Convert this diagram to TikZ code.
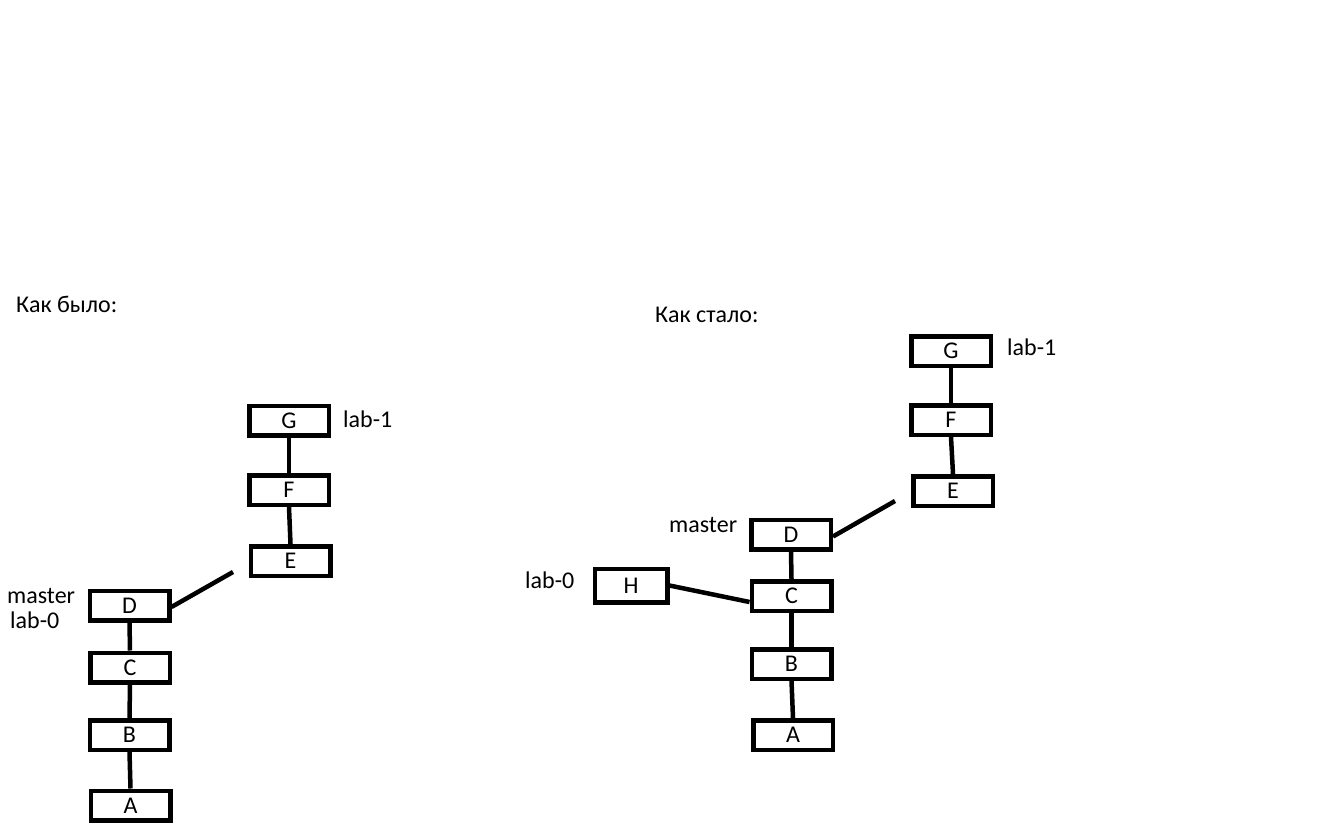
\documentclass[tikz,border=0pt]{standalone}
\usepackage{fontspec}
\setmainfont{Carlito}
\usetikzlibrary{calc}
\tikzset{
  commit/.style={draw=black, line width=4.5pt, minimum width=79.5pt, minimum height=29.5pt, inner sep=0pt, font=\fontsize{24}{28}\selectfont},
  tag/.style={anchor=base west, inner sep=0pt, font=\fontsize{24}{28}\selectfont},
  link/.style={line width=4.5pt, black}
}
\begin{document}
\begin{tikzpicture}[x=1pt, y=-1pt]
\useasboundingbox (0,0) rectangle (1317,837);
% ---------- left: before ----------
\node[tag] (titleL) at (16,312) {Как было:};
\node[commit] (LG) at (289,420.5) {G};
\node[commit] (LF) at (289,490) {F};
\node[commit] (LE) at (290.5,561) {E};
\node[commit] (LD) at (129.5,605.5) {D};
\node[commit] (LC) at (130,667.5) {C};
\node[commit] (LB) at (129.5,735) {B};
\node[commit] (LA) at (130.5,805.5) {A};
\node[tag] (Llab1) at (343,427) {lab-1};
\node[tag] (Lmaster) at (7,603) {master};
\node[tag] (Llab0) at (10,628) {lab-0};
\coordinate (Lend) at (233,572);
\draw[link] (LG.south) -- (LF.north);
\draw[link] (LF.south) -- (LE.north);
\draw[link] (LD.south) -- (LC.north);
\draw[link] (LC.south) -- (LB.north);
\draw[link] (LB.south) -- (LA.north);
\draw[link] ($(LD.east)+(0,1.5)$) -- (Lend);
% ---------- right: after ----------
\node[tag] (titleR) at (655,322) {Как стало:};
\node[commit] (RG) at (951,351) {G};
\node[commit] (RF) at (951,420) {F};
\node[commit] (RE) at (953,491) {E};
\node[commit] (RD) at (791,534.5) {D};
\node[commit] (RC) at (791.5,596) {C};
\node[commit] (RB) at (791.5,664) {B};
\node[commit] (RA) at (793,735) {A};
\node[commit, minimum width=72.5pt, minimum height=33.5pt] (RH) at (631,585.5) {H};
\node[tag] (Rlab1) at (1007,355) {lab-1};
\node[tag] (Rmaster) at (669,532) {master};
\node[tag] (Rlab0) at (525,588) {lab-0};
\coordinate (Rend) at (895,501);
\draw[link] (RG.south) -- (RF.north);
\draw[link] (RF.south) -- (RE.north);
\draw[link] (RD.south) -- (RC.north);
\draw[link] (RC.south) -- (RB.north);
\draw[link] (RB.south) -- (RA.north);
\draw[link] ($(RD.east)+(0,2)$) -- (Rend);
\draw[link] (RH.east) -- ($(RC.west)+(0,6)$);
\end{tikzpicture}
\end{document}
